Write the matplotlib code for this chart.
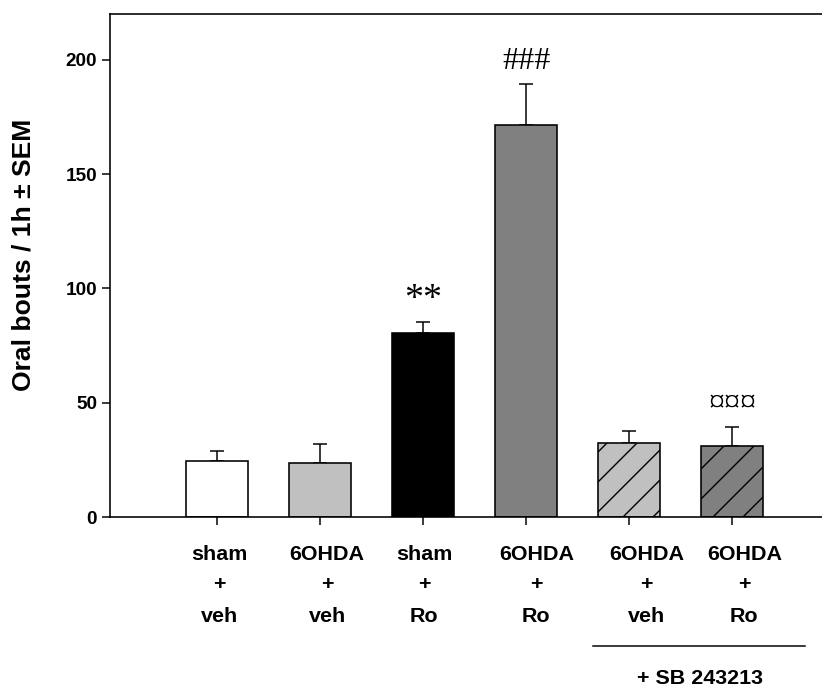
import matplotlib
matplotlib.use("Agg")
import matplotlib.pyplot as plt
from matplotlib import transforms

DPI = 180
W, H = 822, 687

def pt(px):
    return px * 72.0 / DPI

# ---- data ----
groups = ["sham", "6OHDA", "sham", "6OHDA", "6OHDA", "6OHDA"]
treat = ["veh", "veh", "Ro", "Ro", "veh", "Ro"]
means = [24.5, 23.6, 80.6, 171.5, 32.2, 31.0]
sems = [4.4, 8.3, 4.6, 18.0, 5.4, 8.4]
colors = ["#ffffff", "#c0c0c0", "#000000", "#808080", "#c0c0c0", "#808080"]
hatches = [None, None, None, None, "//", "//"]
marks = {2: "**", 3: "###", 5: "\u00a4\u00a4\u00a4"}
yticks = [0, 50, 100, 150, 200]
bracket_label = "+ SB 243213"
ylabel = "Oral bouts / 1h \u00b1 SEM"

plt.rcParams["font.family"] = ["Liberation Sans", "DejaVu Sans"]
plt.rcParams["hatch.linewidth"] = pt(1.4)

fig = plt.figure(figsize=(W / DPI, H / DPI), dpi=DPI)
ax = fig.add_axes([110 / W, 1 - 517 / H, (W - 110) / W + 0.01, (517 - 14) / H])

x = list(range(1, len(means) + 1))
for xi, m, s, c, h in zip(x, means, sems, colors, hatches):
    ax.bar(xi, m, width=0.6, color=c, edgecolor="black", linewidth=pt(1.6),
           hatch=h, zorder=2)
    ax.errorbar(xi, m, yerr=[[0], [s]], fmt="none", ecolor="black",
                elinewidth=pt(1.5), capsize=pt(7), capthick=pt(1.5), zorder=1)

ax.set_xlim(-0.04, 6.95)
ax.set_ylim(0, 220)
ax.set_yticks(yticks)
ax.set_yticklabels([str(v) for v in yticks], fontsize=pt(19), fontweight="bold")
ax.set_xticks(x)
ax.set_xticklabels([])
ax.tick_params(axis="y", direction="out", length=pt(8), width=pt(1.5), pad=pt(5))
ax.tick_params(axis="x", direction="out", length=pt(8), width=pt(1.5))
for sp in ["left", "bottom", "top"]:
    ax.spines[sp].set_linewidth(pt(1.6))
ax.spines["right"].set_visible(False)

# significance marks
for i, txt in marks.items():
    top = means[i] + sems[i]
    fs = 38 if txt == "**" else 32
    ax.annotate(txt, (x[i], top), xytext=(0, pt(22)), textcoords="offset points",
                ha="center", va="center", fontsize=pt(fs),
                family=["Liberation Serif", "DejaVu Serif"])

# category labels (3 rows)
offs = [2, 7, 1, 10, 17, 12]
tr = ax.get_xaxis_transform()
rows_y = [554, 585, 616]
for xi, g, t, o in zip(x, groups, treat, offs):
    for txt, yp in zip([g, "+", t], rows_y):
        ty = (517 - yp) / (517 - 14)
        ax.text(xi, ty, txt, transform=tr + transforms.ScaledTranslation(o / DPI, 0, fig.dpi_scale_trans),
                ha="center", va="center", fontsize=pt(21.5), fontweight="bold",
                clip_on=False)

# bracket for SB 243213
yl = (517 - 646) / (517 - 14)
ax.plot([4.65, 6.71], [yl, yl], transform=tr, color="black", lw=pt(1.5), clip_on=False)
ax.text(5.69, (517 - 679) / (517 - 14), bracket_label, transform=tr, ha="center",
        va="center", fontsize=pt(21.5), fontweight="bold", clip_on=False)

fig.text(24 / W, 1 - 255 / H, ylabel, rotation=90, ha="center", va="center",
         fontsize=pt(26.5), fontweight="bold")

fig.savefig("out.png", dpi=DPI)
